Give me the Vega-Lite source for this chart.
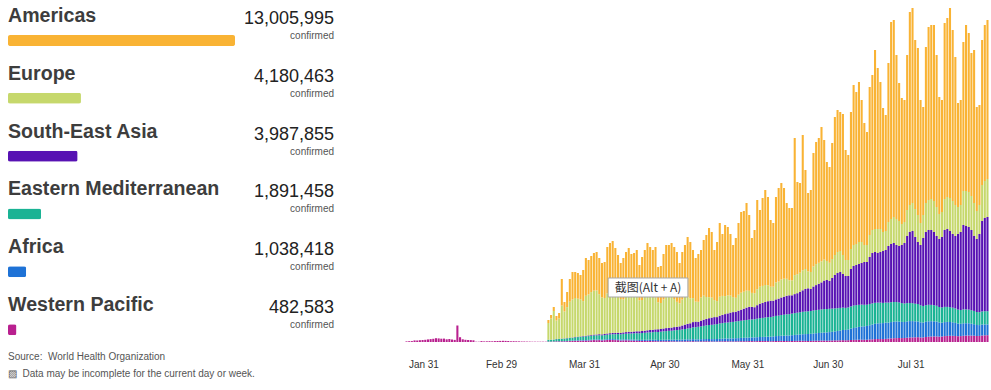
{
  "$schema": "https://vega.github.io/schema/vega-lite/v6.json",
  "padding": {"left": 8, "top": 0, "right": 0, "bottom": 0},
  "background": "white",
  "spacing": 68,
  "config": {"view": {"stroke": null}, "font": "Liberation Sans"},
  "datasets": {
    "daily": [
      {"date":"2020-01-24","WP":600},
      {"date":"2020-01-25","WP":800},
      {"date":"2020-01-26","WP":900},
      {"date":"2020-01-27","WP":1600},
      {"date":"2020-01-28","WP":1500},
      {"date":"2020-01-29","WP":1800},
      {"date":"2020-01-30","WP":2000},
      {"date":"2020-01-31","WP":2200},
      {"date":"2020-02-01","WP":2600},
      {"date":"2020-02-02","WP":2900},
      {"date":"2020-02-03","WP":3200},
      {"date":"2020-02-04","WP":3800},
      {"date":"2020-02-05","WP":3600},
      {"date":"2020-02-06","WP":3300},
      {"date":"2020-02-07","WP":3400},
      {"date":"2020-02-08","WP":2700},
      {"date":"2020-02-09","WP":3000},
      {"date":"2020-02-10","WP":2500},
      {"date":"2020-02-11","WP":2100},
      {"date":"2020-02-12","WP":16500},
      {"date":"2020-02-13","WP":4800},
      {"date":"2020-02-14","WP":2700},
      {"date":"2020-02-15","WP":2200},
      {"date":"2020-02-16","WP":2000},
      {"date":"2020-02-17","WP":1900},
      {"date":"2020-02-18","WP":1700},
      {"date":"2020-02-19","WP":300},
      {"date":"2020-02-20","WP":300},
      {"date":"2020-02-21","WP":900},
      {"date":"2020-02-22","WP":600},
      {"date":"2020-02-23","WP":700},
      {"date":"2020-02-24","WP":800,"EM":50,"EU":100},
      {"date":"2020-02-25","WP":700,"EM":100,"EU":100},
      {"date":"2020-02-26","WP":900,"EM":100,"EU":200},
      {"date":"2020-02-27","WP":1000,"EM":200,"EU":300},
      {"date":"2020-02-28","WP":1100,"EM":200,"EU":400},
      {"date":"2020-02-29","WP":1200,"EM":300,"EU":600},
      {"date":"2020-03-01","WP":1100,"EM":500,"EU":800,"AM":100},
      {"date":"2020-03-02","WP":1000,"EM":500,"EU":1000,"AM":100},
      {"date":"2020-03-03","WP":700,"EM":800,"EU":1200,"AM":100},
      {"date":"2020-03-04","WP":800,"EM":900,"EU":1400,"AM":200},
      {"date":"2020-03-05","WP":700,"EM":800,"EU":1900,"AM":200},
      {"date":"2020-03-06","WP":600,"EM":1200,"EU":2400,"AM":300},
      {"date":"2020-03-07","WP":500,"EM":1100,"EU":3300,"AM":300},
      {"date":"2020-03-08","WP":500,"EM":1000,"EU":4100,"AM":400},
      {"date":"2020-03-09","WP":400,"EM":800,"EU":5100,"AM":500},
      {"date":"2020-03-10","WP":400,"EM":1000,"EU":5500,"AM":600},
      {"date":"2020-03-11","WP":300,"EM":1100,"EU":6800,"AM":800},
      {"date":"2020-03-12","WP":300,"EM":1200,"EU":8400,"AM":1100},
      {"date":"2020-03-13","WP":300,"EM":1300,"EU":9100,"AM":1300},
      {"date":"2020-03-14","WP":300,"EM":1500,"EU":10600,"AM":1600},
      {"date":"2020-03-15","WP":300,"EM":1600,"EU":13000,"AM":2100},
      {"date":"2020-03-16","WP":300,"EM":1500,"SEA":100,"EU":14600,"AM":2500},
      {"date":"2020-03-17","WP":400,"AF":100,"EM":1600,"SEA":100,"EU":16800,"AM":3000},
      {"date":"2020-03-18","WP":400,"AF":100,"EM":1700,"SEA":100,"EU":21200,"AM":3500},
      {"date":"2020-03-19","WP":500,"AF":100,"EM":1800,"SEA":100,"EU":28500,"AM":4000},
      {"date":"2020-03-20","WP":600,"AF":200,"EM":2000,"SEA":200,"EU":18500,"AM":4500},
      {"date":"2020-03-21","WP":600,"AF":200,"EM":2200,"SEA":200,"EU":20300,"AM":5500},
      {"date":"2020-03-22","WP":700,"AF":200,"EM":2300,"SEA":200,"EU":33000,"AM":26600},
      {"date":"2020-03-23","WP":700,"AF":300,"EM":2400,"SEA":200,"EU":27000,"AM":9400},
      {"date":"2020-03-24","WP":800,"AF":300,"EM":2500,"SEA":300,"EU":31000,"AM":15100},
      {"date":"2020-03-25","WP":900,"AF":400,"EM":2700,"SEA":300,"EU":36000,"AM":22700},
      {"date":"2020-03-26","WP":1000,"AF":400,"EM":2800,"SEA":300,"EU":38000,"AM":27500},
      {"date":"2020-03-27","WP":1100,"AF":500,"EM":3000,"SEA":400,"EU":39000,"AM":26000},
      {"date":"2020-03-28","WP":1200,"AF":500,"EM":3200,"SEA":400,"EU":38000,"AM":25700},
      {"date":"2020-03-29","WP":1300,"AF":500,"EM":3400,"SEA":400,"EU":37000,"AM":24400},
      {"date":"2020-03-30","WP":1300,"AF":600,"EM":3500,"SEA":500,"EU":35000,"AM":31100},
      {"date":"2020-03-31","WP":1400,"AF":600,"EM":3600,"SEA":600,"EU":40000,"AM":37800},
      {"date":"2020-04-01","WP":1500,"AF":600,"EM":3800,"SEA":700,"EU":41000,"AM":34400},
      {"date":"2020-04-02","WP":1700,"AF":600,"EM":3900,"SEA":700,"EU":43000,"AM":36100},
      {"date":"2020-04-03","WP":1900,"AF":700,"EM":4000,"SEA":800,"EU":44000,"AM":37600},
      {"date":"2020-04-04","WP":1800,"AF":700,"EM":4100,"SEA":900,"EU":44000,"AM":38500},
      {"date":"2020-04-05","WP":1900,"AF":700,"EM":4200,"SEA":1000,"EU":40000,"AM":36200},
      {"date":"2020-04-06","WP":1600,"AF":700,"EM":4300,"SEA":1000,"EU":37000,"AM":34400},
      {"date":"2020-04-07","WP":1800,"AF":800,"EM":4300,"SEA":1100,"EU":36000,"AM":36000},
      {"date":"2020-04-08","WP":2000,"AF":800,"EM":4500,"SEA":1200,"EU":40000,"AM":46500},
      {"date":"2020-04-09","WP":2200,"AF":800,"EM":4600,"SEA":1200,"EU":43000,"AM":47200},
      {"date":"2020-04-10","WP":2100,"AF":900,"EM":4800,"SEA":1300,"EU":42000,"AM":49900},
      {"date":"2020-04-11","WP":1900,"AF":900,"EM":5000,"SEA":1300,"EU":40000,"AM":44900},
      {"date":"2020-04-12","WP":1800,"AF":900,"EM":5200,"SEA":1400,"EU":38000,"AM":39700},
      {"date":"2020-04-13","WP":1500,"AF":900,"EM":5300,"SEA":1300,"EU":34000,"AM":36000},
      {"date":"2020-04-14","WP":1600,"AF":1000,"EM":5500,"SEA":1500,"EU":33000,"AM":41400},
      {"date":"2020-04-15","WP":1700,"AF":1000,"EM":5600,"SEA":1600,"EU":36000,"AM":44100},
      {"date":"2020-04-16","WP":1600,"AF":1000,"EM":5900,"SEA":1700,"EU":38000,"AM":45800},
      {"date":"2020-04-17","WP":1400,"AF":1100,"EM":6000,"SEA":1700,"EU":37000,"AM":40800},
      {"date":"2020-04-18","WP":1300,"AF":1100,"EM":6300,"SEA":1800,"EU":37000,"AM":41500},
      {"date":"2020-04-19","WP":1300,"AF":1000,"EM":6500,"SEA":1900,"EU":36000,"AM":45300},
      {"date":"2020-04-20","WP":1000,"AF":1100,"EM":6600,"SEA":2000,"EU":31000,"AM":35300},
      {"date":"2020-04-21","WP":1100,"AF":1100,"EM":6800,"SEA":2000,"EU":31000,"AM":43000},
      {"date":"2020-04-22","WP":1000,"AF":1200,"EM":7000,"SEA":2100,"EU":34000,"AM":46700},
      {"date":"2020-04-23","WP":1100,"AF":1200,"EM":7200,"SEA":2200,"EU":36000,"AM":51300},
      {"date":"2020-04-24","WP":1000,"AF":1300,"EM":7400,"SEA":2300,"EU":35000,"AM":48000},
      {"date":"2020-04-25","WP":900,"AF":1300,"EM":7600,"SEA":2400,"EU":33000,"AM":46800},
      {"date":"2020-04-26","WP":900,"AF":1400,"EM":7800,"SEA":2500,"EU":32000,"AM":50400},
      {"date":"2020-04-27","WP":700,"AF":1400,"EM":8000,"SEA":2600,"EU":27000,"AM":35300},
      {"date":"2020-04-28","WP":800,"AF":1400,"EM":8200,"SEA":2600,"EU":26000,"AM":37000},
      {"date":"2020-04-29","WP":800,"AF":1500,"EM":8400,"SEA":2800,"EU":29000,"AM":45500},
      {"date":"2020-04-30","WP":800,"AF":1500,"EM":8600,"SEA":3000,"EU":31000,"AM":52100},
      {"date":"2020-05-01","WP":800,"AF":1600,"EM":8800,"SEA":3000,"EU":32000,"AM":50800},
      {"date":"2020-05-02","WP":700,"AF":1600,"EM":9000,"SEA":3100,"EU":31000,"AM":53600},
      {"date":"2020-05-03","WP":700,"AF":1700,"EM":9300,"SEA":3200,"EU":28000,"AM":52100},
      {"date":"2020-05-04","WP":600,"AF":1700,"EM":9600,"SEA":3300,"EU":25000,"AM":49800},
      {"date":"2020-05-05","WP":600,"AF":1700,"EM":9800,"SEA":3500,"EU":23000,"AM":40400},
      {"date":"2020-05-06","WP":700,"AF":1800,"EM":10100,"SEA":3900,"EU":26000,"AM":47500},
      {"date":"2020-05-07","WP":700,"AF":1800,"EM":10500,"SEA":4400,"EU":28000,"AM":51600},
      {"date":"2020-05-08","WP":800,"AF":1900,"EM":10800,"SEA":4600,"EU":27000,"AM":59900},
      {"date":"2020-05-09","WP":700,"AF":1900,"EM":11300,"SEA":4800,"EU":25000,"AM":56300},
      {"date":"2020-05-10","WP":800,"AF":2000,"EM":11800,"SEA":5300,"EU":24000,"AM":48100},
      {"date":"2020-05-11","WP":600,"AF":2000,"EM":12200,"SEA":5600,"EU":20000,"AM":43600},
      {"date":"2020-05-12","WP":600,"AF":2100,"EM":12500,"SEA":5000,"EU":20000,"AM":47800},
      {"date":"2020-05-13","WP":700,"AF":2100,"EM":12800,"SEA":5800,"EU":23000,"AM":47600},
      {"date":"2020-05-14","WP":700,"AF":2200,"EM":13200,"SEA":6200,"EU":24000,"AM":55700},
      {"date":"2020-05-15","WP":800,"AF":2200,"EM":13600,"SEA":6400,"EU":22000,"AM":62000},
      {"date":"2020-05-16","WP":700,"AF":2300,"EM":14000,"SEA":6800,"EU":21000,"AM":69200},
      {"date":"2020-05-17","WP":600,"AF":2300,"EM":14300,"SEA":7200,"EU":20000,"AM":65600},
      {"date":"2020-05-18","WP":500,"AF":2400,"EM":14600,"SEA":7400,"EU":17000,"AM":50100},
      {"date":"2020-05-19","WP":600,"AF":2400,"EM":14900,"SEA":7000,"EU":16000,"AM":59100},
      {"date":"2020-05-20","WP":700,"AF":2500,"EM":15300,"SEA":7800,"EU":19000,"AM":73700},
      {"date":"2020-05-21","WP":700,"AF":2600,"EM":15600,"SEA":8200,"EU":19000,"AM":61900},
      {"date":"2020-05-22","WP":800,"AF":2700,"EM":15800,"SEA":8600,"EU":18000,"AM":71100},
      {"date":"2020-05-23","WP":700,"AF":2800,"EM":16000,"SEA":9100,"EU":18000,"AM":68400},
      {"date":"2020-05-24","WP":700,"AF":2900,"EM":16300,"SEA":9500,"EU":17000,"AM":61600},
      {"date":"2020-05-25","WP":600,"AF":3000,"EM":16500,"SEA":9800,"EU":15000,"AM":52100},
      {"date":"2020-05-26","WP":700,"AF":3100,"EM":16800,"SEA":9600,"EU":14000,"AM":59800},
      {"date":"2020-05-27","WP":700,"AF":3200,"EM":17000,"SEA":10400,"EU":16000,"AM":71700},
      {"date":"2020-05-28","WP":800,"AF":3300,"EM":17200,"SEA":11000,"EU":17000,"AM":80700},
      {"date":"2020-05-29","WP":800,"AF":3400,"EM":17500,"SEA":11600,"EU":17000,"AM":80700},
      {"date":"2020-05-30","WP":800,"AF":3500,"EM":17700,"SEA":12400,"EU":17000,"AM":87600},
      {"date":"2020-05-31","WP":900,"AF":3600,"EM":17900,"SEA":12800,"EU":16000,"AM":75800},
      {"date":"2020-06-01","WP":900,"AF":3700,"EM":18000,"SEA":12500,"EU":14000,"AM":54900},
      {"date":"2020-06-02","WP":800,"AF":3800,"EM":18200,"SEA":12000,"EU":14000,"AM":63200},
      {"date":"2020-06-03","WP":900,"AF":3900,"EM":18500,"SEA":13500,"EU":16000,"AM":89200},
      {"date":"2020-06-04","WP":1000,"AF":4000,"EM":18800,"SEA":14500,"EU":17000,"AM":76700},
      {"date":"2020-06-05","WP":1000,"AF":4100,"EM":19000,"SEA":15000,"EU":17000,"AM":87900},
      {"date":"2020-06-06","WP":1000,"AF":4200,"EM":19300,"SEA":15500,"EU":17000,"AM":95000},
      {"date":"2020-06-07","WP":900,"AF":4400,"EM":19500,"SEA":16000,"EU":16000,"AM":88200},
      {"date":"2020-06-08","WP":800,"AF":4500,"EM":19700,"SEA":16300,"EU":14000,"AM":66700},
      {"date":"2020-06-09","WP":900,"AF":4700,"EM":19900,"SEA":15800,"EU":14000,"AM":63700},
      {"date":"2020-06-10","WP":1000,"AF":4900,"EM":20200,"SEA":16500,"EU":17000,"AM":85400},
      {"date":"2020-06-11","WP":1000,"AF":5000,"EM":20400,"SEA":17000,"EU":17000,"AM":93600},
      {"date":"2020-06-12","WP":1100,"AF":5200,"EM":20700,"SEA":17500,"EU":18000,"AM":96500},
      {"date":"2020-06-13","WP":1000,"AF":5300,"EM":21000,"SEA":18000,"EU":18000,"AM":90700},
      {"date":"2020-06-14","WP":1000,"AF":5500,"EM":21200,"SEA":18500,"EU":17000,"AM":75800},
      {"date":"2020-06-15","WP":900,"AF":5600,"EM":21400,"SEA":18800,"EU":15000,"AM":72300},
      {"date":"2020-06-16","WP":1000,"AF":5800,"EM":21600,"SEA":18300,"EU":15000,"AM":72300},
      {"date":"2020-06-17","WP":1100,"AF":6000,"EM":21800,"SEA":19000,"EU":19000,"AM":137100},
      {"date":"2020-06-18","WP":1100,"AF":6200,"EM":22000,"SEA":19500,"EU":19000,"AM":92200},
      {"date":"2020-06-19","WP":1200,"AF":6400,"EM":22200,"SEA":20500,"EU":19000,"AM":89700},
      {"date":"2020-06-20","WP":1200,"AF":6600,"EM":22400,"SEA":21500,"EU":20000,"AM":135300},
      {"date":"2020-06-21","WP":1100,"AF":6800,"EM":22600,"SEA":22500,"EU":20000,"AM":99000},
      {"date":"2020-06-22","WP":1000,"AF":7000,"EM":22700,"SEA":23000,"EU":17000,"AM":78300},
      {"date":"2020-06-23","WP":1100,"AF":7100,"EM":22800,"SEA":22000,"EU":17000,"AM":82000},
      {"date":"2020-06-24","WP":1200,"AF":7300,"EM":23000,"SEA":24000,"EU":20000,"AM":113500},
      {"date":"2020-06-25","WP":1300,"AF":7500,"EM":23100,"SEA":25000,"EU":21000,"AM":122100},
      {"date":"2020-06-26","WP":1300,"AF":7700,"EM":23200,"SEA":26000,"EU":21000,"AM":124800},
      {"date":"2020-06-27","WP":1400,"AF":7900,"EM":23300,"SEA":27000,"EU":21000,"AM":134400},
      {"date":"2020-06-28","WP":1400,"AF":8100,"EM":23400,"SEA":28500,"EU":21000,"AM":119600},
      {"date":"2020-06-29","WP":1300,"AF":8300,"EM":23400,"SEA":29000,"EU":19000,"AM":99000},
      {"date":"2020-06-30","WP":1400,"AF":8500,"EM":23300,"SEA":28000,"EU":18000,"AM":95800},
      {"date":"2020-07-01","WP":1500,"AF":8700,"EM":23200,"SEA":30600,"EU":19000,"AM":116000},
      {"date":"2020-07-02","WP":1600,"AF":9000,"EM":23000,"SEA":33400,"EU":20000,"AM":138000},
      {"date":"2020-07-03","WP":1600,"AF":9400,"EM":22800,"SEA":35200,"EU":21000,"AM":142000},
      {"date":"2020-07-04","WP":1700,"AF":9800,"EM":22600,"SEA":35900,"EU":21000,"AM":139000},
      {"date":"2020-07-05","WP":1800,"AF":10200,"EM":22400,"SEA":33600,"EU":19000,"AM":141000},
      {"date":"2020-07-06","WP":1700,"AF":10400,"EM":22000,"SEA":31900,"EU":16000,"AM":110000},
      {"date":"2020-07-07","WP":1800,"AF":10800,"EM":22000,"SEA":31400,"EU":16000,"AM":105000},
      {"date":"2020-07-08","WP":2000,"AF":11400,"EM":22200,"SEA":37400,"EU":20000,"AM":137000},
      {"date":"2020-07-09","WP":2100,"AF":11900,"EM":22400,"SEA":39600,"EU":21000,"AM":160000},
      {"date":"2020-07-10","WP":2200,"AF":12400,"EM":22300,"SEA":40100,"EU":21000,"AM":152000},
      {"date":"2020-07-11","WP":2300,"AF":12800,"EM":22100,"SEA":40800,"EU":22000,"AM":160000},
      {"date":"2020-07-12","WP":2300,"AF":13200,"EM":21900,"SEA":41600,"EU":21000,"AM":142000},
      {"date":"2020-07-13","WP":2200,"AF":13500,"EM":21500,"SEA":42800,"EU":17000,"AM":122000},
      {"date":"2020-07-14","WP":2300,"AF":13800,"EM":21200,"SEA":42700,"EU":17000,"AM":113000},
      {"date":"2020-07-15","WP":2500,"AF":14300,"EM":21200,"SEA":47000,"EU":22000,"AM":148000},
      {"date":"2020-07-16","WP":2700,"AF":14800,"EM":21100,"SEA":50400,"EU":23000,"AM":155000},
      {"date":"2020-07-17","WP":2900,"AF":15300,"EM":21000,"SEA":50800,"EU":23000,"AM":179000},
      {"date":"2020-07-18","WP":3000,"AF":15600,"EM":20800,"SEA":49600,"EU":24000,"AM":161000},
      {"date":"2020-07-19","WP":3000,"AF":15800,"EM":20600,"SEA":50600,"EU":23000,"AM":147000},
      {"date":"2020-07-20","WP":2900,"AF":16000,"EM":20200,"SEA":51900,"EU":19000,"AM":124000},
      {"date":"2020-07-21","WP":3100,"AF":16300,"EM":20000,"SEA":52600,"EU":19000,"AM":116000},
      {"date":"2020-07-22","WP":3400,"AF":16000,"EM":20000,"SEA":56600,"EU":24000,"AM":159000},
      {"date":"2020-07-23","WP":3600,"AF":16300,"EM":19900,"SEA":58200,"EU":25000,"AM":197000},
      {"date":"2020-07-24","WP":3800,"AF":16500,"EM":19700,"SEA":59000,"EU":26000,"AM":197000},
      {"date":"2020-07-25","WP":3900,"AF":16600,"EM":19500,"SEA":57000,"EU":26000,"AM":164000},
      {"date":"2020-07-26","WP":4000,"AF":16400,"EM":19200,"SEA":56400,"EU":25000,"AM":138000},
      {"date":"2020-07-27","WP":3900,"AF":16200,"EM":18800,"SEA":58100,"EU":21000,"AM":126000},
      {"date":"2020-07-28","WP":4000,"AF":16000,"EM":18500,"SEA":60500,"EU":21000,"AM":122000},
      {"date":"2020-07-29","WP":4300,"AF":16300,"EM":18300,"SEA":67100,"EU":26000,"AM":155000},
      {"date":"2020-07-30","WP":4500,"AF":16400,"EM":18100,"SEA":71000,"EU":27000,"AM":193000},
      {"date":"2020-07-31","WP":4600,"AF":16300,"EM":17900,"SEA":72200,"EU":28000,"AM":195000},
      {"date":"2020-08-01","WP":4700,"AF":16000,"EM":17600,"SEA":66700,"EU":28000,"AM":169000},
      {"date":"2020-08-02","WP":4800,"AF":15800,"EM":17400,"SEA":62000,"EU":27000,"AM":167000},
      {"date":"2020-08-03","WP":4500,"AF":15200,"EM":17000,"SEA":60300,"EU":22000,"AM":123000},
      {"date":"2020-08-04","WP":4600,"AF":14800,"EM":16600,"SEA":68000,"EU":23000,"AM":108000},
      {"date":"2020-08-05","WP":5000,"AF":15200,"EM":16600,"SEA":73200,"EU":29000,"AM":156000},
      {"date":"2020-08-06","WP":5300,"AF":15400,"EM":16500,"SEA":74800,"EU":30000,"AM":173000},
      {"date":"2020-08-07","WP":5500,"AF":15300,"EM":16300,"SEA":74900,"EU":31000,"AM":174000},
      {"date":"2020-08-08","WP":5600,"AF":15100,"EM":16100,"SEA":73200,"EU":31000,"AM":176000},
      {"date":"2020-08-09","WP":5600,"AF":14800,"EM":15800,"SEA":69800,"EU":29000,"AM":152000},
      {"date":"2020-08-10","WP":5400,"AF":14200,"EM":15400,"SEA":68000,"EU":25000,"AM":117000},
      {"date":"2020-08-11","WP":5500,"AF":13800,"EM":15200,"SEA":70500,"EU":25000,"AM":112000},
      {"date":"2020-08-12","WP":5900,"AF":14000,"EM":15200,"SEA":76900,"EU":31000,"AM":176000},
      {"date":"2020-08-13","WP":6100,"AF":14000,"EM":15000,"SEA":77900,"EU":32000,"AM":179000},
      {"date":"2020-08-14","WP":6200,"AF":13800,"EM":14800,"SEA":76200,"EU":33000,"AM":190000},
      {"date":"2020-08-15","WP":6200,"AF":13500,"EM":14600,"SEA":73700,"EU":33000,"AM":171000},
      {"date":"2020-08-16","WP":6000,"AF":13100,"EM":14400,"SEA":72500,"EU":31000,"AM":148000},
      {"date":"2020-08-17","WP":5800,"AF":12600,"EM":14000,"SEA":75600,"EU":27000,"AM":104000},
      {"date":"2020-08-18","WP":5900,"AF":12300,"EM":13800,"SEA":78000,"EU":27000,"AM":105000},
      {"date":"2020-08-19","WP":6200,"AF":12500,"EM":13900,"SEA":84400,"EU":34000,"AM":149000},
      {"date":"2020-08-20","WP":6400,"AF":12400,"EM":13800,"SEA":83400,"EU":35000,"AM":166000},
      {"date":"2020-08-21","WP":6500,"AF":12200,"EM":13700,"SEA":82600,"EU":35000,"AM":159000},
      {"date":"2020-08-22","WP":6400,"AF":11900,"EM":13500,"SEA":80200,"EU":34000,"AM":143000},
      {"date":"2020-08-23","WP":6300,"AF":11500,"EM":13300,"SEA":74900,"EU":33000,"AM":153000},
      {"date":"2020-08-24","WP":6000,"AF":11000,"EM":13000,"SEA":73000,"EU":28000,"AM":104000},
      {"date":"2020-08-25","WP":6100,"AF":10800,"EM":12900,"SEA":78200,"EU":29000,"AM":100000},
      {"date":"2020-08-26","WP":6500,"AF":11000,"EM":13100,"SEA":90400,"EU":36000,"AM":145000},
      {"date":"2020-08-27","WP":6700,"AF":10900,"EM":13200,"SEA":93200,"EU":37000,"AM":156000},
      {"date":"2020-08-28","WP":6800,"AF":10800,"EM":13200,"SEA":94200,"EU":38000,"AM":159000}
    ]
  },
  "hconcat": [
    {
      "width": 326,
      "height": 347,
      "data": {"values": [
        {"region": "Americas", "total": 13005995},
        {"region": "Europe", "total": 4180463},
        {"region": "South-East Asia", "total": 3987855},
        {"region": "Eastern Mediterranean", "total": 1891458},
        {"region": "Africa", "total": 1038418},
        {"region": "Western Pacific", "total": 482583}
      ]},
      "title": {
        "text": "Source:\u00a0 World Health Organization",
        "subtitle": "\u25a8\u00a0\u00a0Data may be incomplete for the current day or week.",
        "orient": "bottom",
        "anchor": "start",
        "font": "Liberation Sans",
        "fontSize": 10,
        "fontWeight": "normal",
        "color": "#555555",
        "subtitleFont": "Liberation Sans",
        "subtitleFontSize": 10,
        "subtitleColor": "#555555",
        "offset": 5,
        "subtitlePadding": 7
      },
      "encoding": {
        "y": {"field": "region", "type": "nominal", "sort": null, "axis": null,
              "scale": {"paddingInner": 0, "paddingOuter": 0}}
      },
      "layer": [
        {
          "mark": {"type": "bar", "size": 11, "cornerRadius": 2, "yOffset": 11.6},
          "encoding": {
            "x": {"field": "total", "type": "quantitative",
                  "scale": {"domain": [0, 18678213], "nice": false, "zero": true}, "axis": null},
            "color": {"field": "region", "type": "nominal", "legend": null,
                      "scale": {"domain": ["Western Pacific", "Africa", "Eastern Mediterranean", "South-East Asia", "Europe", "Americas"],
                                "range": ["#B9208F", "#1E72D6", "#1AB394", "#5712B3", "#C6D86C", "#F9B334"]}}
          }
        },
        {
          "mark": {"type": "text", "align": "left", "baseline": "middle", "dy": -13,
                   "font": "Liberation Sans", "fontSize": 19.6, "fontWeight": "bold", "color": "#3d3d3d"},
          "encoding": {"x": {"datum": 0, "type": "quantitative"}, "text": {"field": "region"}}
        },
        {
          "mark": {"type": "text", "align": "right", "baseline": "middle", "dy": -10,
                   "font": "Liberation Sans", "fontSize": 18, "color": "#222222"},
          "encoding": {"x": {"datum": 18678213, "type": "quantitative"}, "text": {"field": "total", "format": ","}}
        },
        {
          "mark": {"type": "text", "align": "right", "baseline": "middle", "dy": 7,
                   "font": "Liberation Sans", "fontSize": 10, "color": "#555555"},
          "encoding": {"x": {"datum": 18678213, "type": "quantitative"}, "text": {"value": "confirmed"}}
        }
      ]
    },
    {
      "width": 589,
      "height": 342,
      "layer": [
        {
          "data": {"name": "daily"},
          "transform": [
            {"fold": ["WP", "AF", "EM", "SEA", "EU", "AM"], "as": ["code", "cases"]},
            {"lookup": "code", "from": {"data": {"values": [
              {"code": "WP", "region": "Western Pacific", "rank": 1},
              {"code": "AF", "region": "Africa", "rank": 2},
              {"code": "EM", "region": "Eastern Mediterranean", "rank": 3},
              {"code": "SEA", "region": "South-East Asia", "rank": 4},
              {"code": "EU", "region": "Europe", "rank": 5},
              {"code": "AM", "region": "Americas", "rank": 6}
            ]}, "key": "code", "fields": ["region", "rank"]}}
          ],
          "mark": {"type": "bar", "binSpacing": 0.6},
          "encoding": {
            "x": {
              "field": "date", "type": "temporal", "timeUnit": "utcyearmonthdate",
              "scale": {"domain": [{"year": 2020, "month": 1, "date": 23, "utc": true}, {"year": 2020, "month": 8, "date": 30, "utc": true}]},
              "axis": {
                "values": [
                  {"year": 2020, "month": 1, "date": 31, "utc": true},
                  {"year": 2020, "month": 2, "date": 29, "utc": true},
                  {"year": 2020, "month": 3, "date": 31, "utc": true},
                  {"year": 2020, "month": 4, "date": 30, "utc": true},
                  {"year": 2020, "month": 5, "date": 31, "utc": true},
                  {"year": 2020, "month": 6, "date": 30, "utc": true},
                  {"year": 2020, "month": 7, "date": 31, "utc": true}
                ],
                "labelExpr": "utcFormat(datum.value, '%b %d')",
                "title": null, "ticks": false, "domain": false, "grid": false,
                "labelPadding": 17, "labelFont": "Liberation Sans", "labelFontSize": 10,
                "labelColor": "#333333"
              }
            },
            "y": {"field": "cases", "type": "quantitative", "stack": "zero",
                  "scale": {"domain": [0, 342000], "nice": false}, "axis": null},
            "color": {"field": "region", "type": "nominal", "legend": null,
                      "scale": {"domain": ["Western Pacific", "Africa", "Eastern Mediterranean", "South-East Asia", "Europe", "Americas"],
                                "range": ["#B9208F", "#1E72D6", "#1AB394", "#5712B3", "#C6D86C", "#F9B334"]}},
            "order": {"field": "rank", "type": "quantitative"},
            "fillOpacity": {"condition": {"test": "datum.date === '2020-08-28'", "value": 0.35}, "value": 1}
          }
        },
        {
          "data": {"values": [{}]},
          "mark": {"type": "rect", "fill": "white", "stroke": "#a6a6a6", "strokeWidth": 1},
          "encoding": {
            "x": {"datum": {"year": 2020, "month": 4, "date": 9, "utc": true}, "type": "temporal"},
            "x2": {"datum": {"year": 2020, "month": 5, "date": 8, "hours": 19, "utc": true}},
            "y": {"datum": 64000, "type": "quantitative"},
            "y2": {"datum": 45000}
          }
        },
        {
          "data": {"values": [{}]},
          "mark": {"type": "text", "font": "Noto Sans CJK SC", "fontSize": 12, "color": "#333333", "baseline": "middle", "align": "center"},
          "encoding": {
            "x": {"datum": {"year": 2020, "month": 4, "date": 23, "hours": 22, "utc": true}, "type": "temporal"},
            "y": {"datum": 54500, "type": "quantitative"},
            "text": {"value": "截图(Alt + A)"}
          }
        }
      ]
    }
  ]
}
